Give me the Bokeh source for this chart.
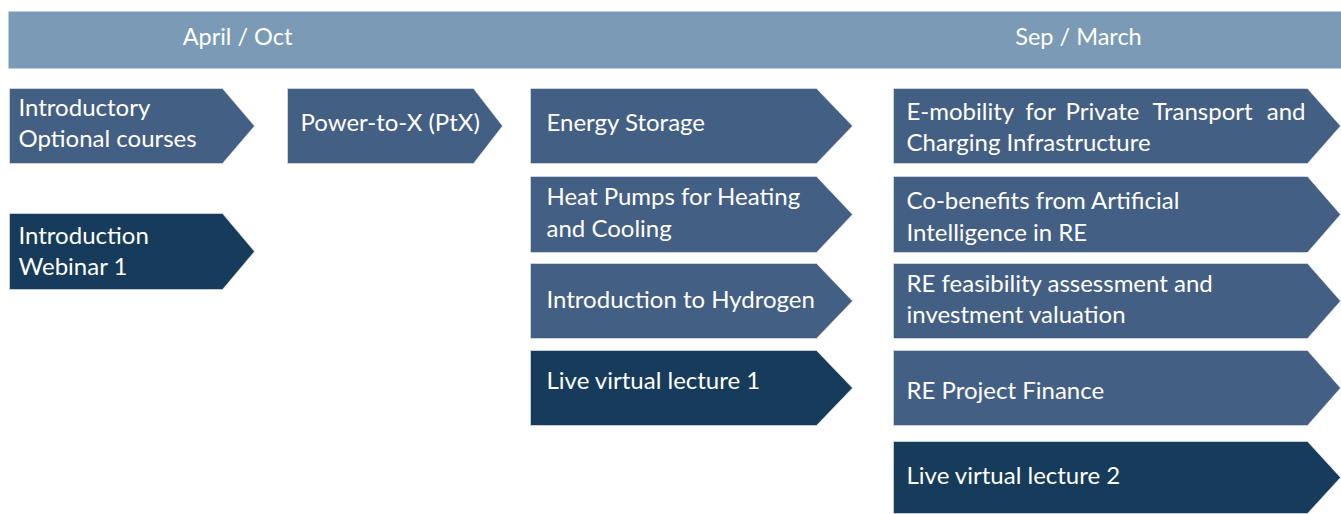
from bokeh.plotting import figure
from bokeh.models import Range1d, ColumnDataSource
from bokeh.core.properties import value
from bokeh.embed import file_html
from bokeh.resources import INLINE

# ---------------- data ----------------
header_labels = ["April / Oct", "Sep / March"]

labels = [
    "Introductory\nOptional courses",
    "Introduction\nWebinar 1",
    "Power-to-X (PtX)",
    "Energy Storage",
    "Heat Pumps for Heating\nand Cooling",
    "Introduction to Hydrogen",
    "Live virtual lecture 1",
    "E-mobility for Private Transport and\nCharging Infrastructure",
    "Co-benefits from Artificial\nIntelligence in RE",
    "RE feasibility assessment and\ninvestment valuation",
    "RE Project Finance",
    "Live virtual lecture 2",
]
column = [0, 0, 1, 2, 2, 2, 2, 3, 3, 3, 3, 3]
kind = ["course", "live", "course", "course", "course", "course", "live",
        "course", "course", "course", "course", "live"]

# ---------------- layout ----------------
W, H = 1341, 514
col_left = [9, 287, 530, 893]
col_body = [222, 473, 816, 1307]
col_tip = [254, 502, 852, 1340]
col_text = [18, 300, 546, 906]
box_top = [88, 213, 88, 88, 176, 263, 350, 88, 176, 263, 350, 441]
box_bot = [163, 289, 163, 163, 252, 338, 425, 163, 252, 338, 425, 513]
text_dy = [-2.5, 0, -3.5, -3.5, -1.5, -1.5, -7.5, 1.5, 2.5, -1.5, 2.5, -2]
text_shift = -1.5
header_x = [237, 1078]
header_top, header_bot = 11, 68
line_gap = 31.5
justify_centers = [None, 1040, 1102, 1202, None]  # centres of inner words of justified line
justify_right = 1305

colors = {"course": "#445f84", "live": "#173b5a"}
header_color = "#7b9ab6"
FONT = "Lato"
FS = "24px"
HFS = "23.5px"

p = figure(width=W, height=H, output_backend="svg", toolbar_location=None,
           x_range=Range1d(0, 1341), y_range=Range1d(514, 0),
           min_border=0, outline_line_color=None)
p.axis.visible = False
p.grid.visible = False
p.background_fill_color = "white"
p.border_fill_color = "white"

# header bar
p.quad(left=[8], right=[1341], top=[header_top], bottom=[header_bot],
       fill_color=header_color, line_color=None)
p.text(x=header_x, y=[(header_top + header_bot) / 2 - 4] * 2, text=header_labels,
       text_color="white", text_font=value(FONT), text_font_size=HFS,
       text_align="center", text_baseline="middle")

# chevrons
xs, ys, fills = [], [], []
for i, c in enumerate(column):
    t, b = box_top[i], box_bot[i]
    m = (t + b) / 2
    xs.append([col_left[c], col_body[c], col_tip[c], col_body[c], col_left[c]])
    ys.append([t, t, m, b, b])
    fills.append(colors[kind[i]])
p.patches(xs=xs, ys=ys, fill_color=fills, line_color="#e8edf3", line_width=0.6)

# labels
tx, ty, tt, ta = [], [], [], []
for i, lab in enumerate(labels):
    c = column[i]
    lines = lab.split("\n")
    m = (box_top[i] + box_bot[i]) / 2 + text_dy[i] + text_shift
    n = len(lines)
    for k, ln in enumerate(lines):
        y = m + (k - (n - 1) / 2) * line_gap
        if i == 7 and k == 0:
            words = ln.split(" ")
            for j, w in enumerate(words):
                if j == 0:
                    tx.append(col_text[c]); ta.append("left")
                elif j == len(words) - 1:
                    tx.append(justify_right); ta.append("right")
                else:
                    tx.append(justify_centers[j]); ta.append("center")
                ty.append(y); tt.append(w)
        else:
            tx.append(col_text[c]); ty.append(y); tt.append(ln); ta.append("left")

src = ColumnDataSource(dict(x=tx, y=ty, text=tt, align=ta))
p.text(x="x", y="y", text="text", text_align="align", source=src,
       text_color="white", text_font=value(FONT), text_font_size=FS,
       text_baseline="middle")

open("out.html", "w").write(file_html(p, INLINE))
